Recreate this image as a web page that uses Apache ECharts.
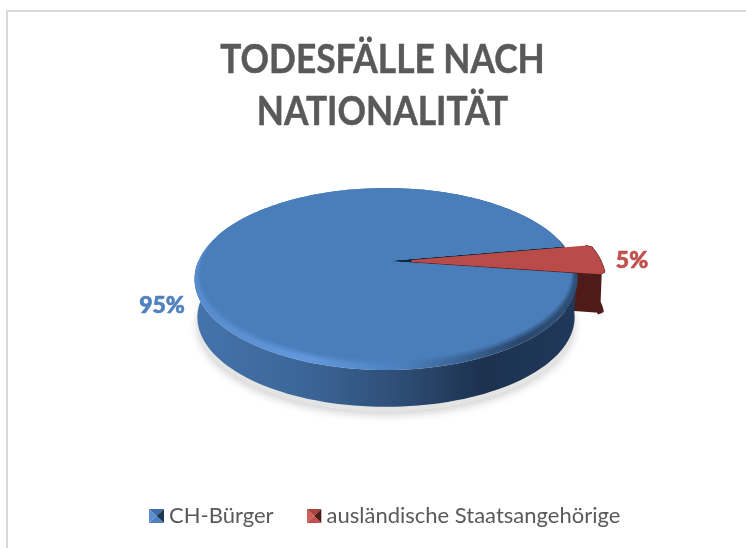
<!DOCTYPE html>
<html lang="de" style="height: 100%">
<head>
    <title>Todesfälle nach Nationalität</title>
    <meta charset="utf-8">
</head>
<body style="height: 100%; margin: 0; background: #fff">
<div id="container" style="height: 100%"></div>
<script src="https://cdn.jsdelivr.net/npm/echarts@6/dist/echarts.min.js"></script>
<script type="text/javascript">
    var categories = ['CH-Bürger', 'ausländische Staatsangehörige'];
    var values = [95, 5];
    var titleLines = ['TODESFÄLLE NACH', 'NATIONALITÄT'];

    var FONT = 'Lato, "Open Sans", sans-serif';
    var total = values.reduce(function (a, b) { return a + b; }, 0);

    // perspective disc: center, radii, tilt, height of the cylinder
    var CX = 386, CY = 261, RX = 187.7, RY = 87.4, TILT = 0.198, DEPTH = 38.5;
    var FIRST_ANGLE = 8;
    var EXPLODE_U = 0.14;

    var skins = [
        {
            top: '#4a7ebb', label: '#4f81bd', wallCut: '#14263f',
            side: [[0, '#4573ab'], [0.3, '#3b6597'], [0.55, '#2d4c73'], [0.75, '#1c324f'], [1, '#20385a']],
            bevel: [[0, '#568bcc'], [0.3, '#6299dc'], [0.55, '#4a7ebb'], [0.85, '#2a486d'], [1, '#2f5078']]
        },
        {
            top: '#b94b48', label: '#c0504d', wallCut: '#4e1b18'
        }
    ];

    function project(deg, r, shiftU, dy, scale) {
        var a = deg * Math.PI / 180;
        var u = r * Math.cos(a) + (shiftU || 0);
        var v = r * Math.sin(a);
        var w = 1 - TILT * v;
        var s = scale || 1;
        return [CX + s * RX * u / w, CY + s * RY * v / w + (dy || 0)];
    }

    function arc(from, to, shiftU, dy, scale) {
        var pts = [];
        var n = Math.max(2, Math.ceil(Math.abs(to - from) / 2));
        for (var i = 0; i <= n; i++) {
            pts.push(project(from + (to - from) * i / n, 1, shiftU, dy, scale));
        }
        return pts;
    }

    // radius of the flat face inside the bevel; same radial lines, so the cuts stay straight
    function faceRim(from, to, soft) {
        var pts = [];
        var n = Math.ceil(Math.abs(to - from) / 2);
        for (var i = 0; i <= n; i++) {
            var deg = from + (to - from) * i / n;
            var s = Math.sin(deg * Math.PI / 180);
            var inset = s > 0 ? 0.02 + 0.055 * s : 0.02 * Math.max(0, 1 + 3 * s);
            pts.push(project(deg, 1 - inset * soft));
        }
        return pts;
    }

    function grad(stops) {
        return new echarts.graphic.LinearGradient(0, 0, 1, 0, stops.map(function (s) {
            return { offset: s[0], color: s[1] };
        }));
    }

    function poly(points, fill, z2, extra) {
        var style = { fill: fill };
        for (var k in extra) style[k] = extra[k];
        return { type: 'polygon', shape: { points: points }, style: style, z2: z2, silent: true };
    }

    function sliceAngles(idx) {
        var before = 0;
        for (var i = 0; i < idx; i++) before += values[i];
        return [
            FIRST_ANGLE + before / total * 360,
            FIRST_ANGLE + (before + values[idx]) / total * 360
        ];
    }

    function renderBlue(idx) {
        var ang = sliceAngles(idx);
        var skin = skins[idx];
        var apex = project(0, 0);
        var endPt = project(ang[1], 1);
        return [
            // ground shadow
            poly(arc(0, 360, 0, DEPTH + 5, 0.985), '#e4e4e4', 1, { shadowBlur: 9, shadowColor: '#d0d0d0', shadowOffsetY: 3 }),
            // cut wall seen through the gap
            poly([apex, endPt, [endPt[0], endPt[1] + DEPTH], [apex[0], apex[1] + DEPTH]], skin.wallCut, 2),
            // outer wall
            poly(arc(ang[0], 180, 0, DEPTH, 0.985).concat(arc(180, ang[0])), grad(skin.side), 10),
            // bevel, then the face in soft steps
            poly([apex].concat(arc(ang[0], ang[1])), grad(skin.bevel), 11),
            poly([apex].concat(faceRim(ang[0], ang[1], 0.55)), skin.top, 12, { opacity: 0.3 }),
            poly([apex].concat(faceRim(ang[0], ang[1], 0.75)), skin.top, 13, { opacity: 0.5 }),
            poly([apex].concat(faceRim(ang[0], ang[1], 1)), skin.top, 14)
        ];
    }

    function renderRed(idx) {
        var ang = sliceAngles(idx);
        var skin = skins[idx];
        var apex = project(0, 0, EXPLODE_U);
        // corners of the rim are chamfered, the stroke rounds them off
        var rim = [project(ang[0], 0.98, EXPLODE_U)]
            .concat(arc(ang[0] + 1.2, ang[1] - 1.2, EXPLODE_U), [project(ang[1], 0.98, EXPLODE_U)]);
        var last = rim[rim.length - 1];
        var dropped = rim.map(function (p) { return [p[0] - 1.5, p[1] + DEPTH + 1]; });
        var outer = rim.concat(dropped.slice().reverse());
        return [
            poly(dropped.concat([rim[0]]), '#e4e4e4', 3, { shadowBlur: 6, shadowColor: '#d0d0d0', shadowOffsetY: 4 }),
            poly([apex, last, dropped[dropped.length - 1], [apex[0], apex[1] + DEPTH]], skin.wallCut, 4),
            poly(outer, skin.wallCut, 4, { stroke: skin.wallCut, lineWidth: 3, lineJoin: 'round' }),
            poly([apex].concat(rim), skin.top, 5, { stroke: skin.top, lineWidth: 2, lineJoin: 'round' })
        ];
    }

    var labelOffsets = [[-224, 45], [246, 0]];

    function renderItem(params, api) {
        var idx = params.seriesIndex;
        var children = idx === 0 ? renderBlue(idx) : renderRed(idx);
        children.push({
            type: 'text',
            z2: 20,
            silent: true,
            style: {
                x: CX + labelOffsets[idx][0],
                y: CY + labelOffsets[idx][1],
                text: Math.round(api.value(0) / total * 100) + '%',
                fill: skins[idx].label,
                stroke: skins[idx].label,
                lineWidth: 0.6,
                fontFamily: 'Lato',
                fontWeight: 900,
                fontSize: 23,
                align: 'center',
                verticalAlign: 'middle'
            }
        });
        return { type: 'group', children: children };
    }

    function facetIcon(c) {
        var svg = '<svg xmlns="http://www.w3.org/2000/svg" width="15" height="14">' +
            '<polygon points="0,0 15,0 7.5,7" fill="' + c[0] + '"/>' +
            '<polygon points="0,0 0,14 7.5,7" fill="' + c[1] + '"/>' +
            '<polygon points="15,0 15,14 7.5,7" fill="' + c[2] + '"/>' +
            '<polygon points="0,14 15,14 7.5,7" fill="' + c[3] + '"/></svg>';
        return 'image://data:image/svg+xml;charset=utf-8,' + encodeURIComponent(svg);
    }
    var iconColors = [
        ['#3f6ea8', '#5b8fd0', '#1f3654', '#4f81bd'],
        ['#a84542', '#d0605c', '#4e1b18', '#c0504d']
    ];

    var myChart = echarts.init(document.getElementById('container'), null, { renderer: 'canvas' });

    var series = categories.map(function (name, i) {
        return {
            name: name,
            type: 'custom',
            coordinateSystem: 'none',
            animation: false,
            silent: true,
            renderItem: renderItem,
            data: [[values[i]]]
        };
    });

    // title is squeezed horizontally, Calibri is narrower than Lato
    var titleGraphics = titleLines.map(function (line, i) {
        return {
            type: 'text',
            silent: true,
            x: 382.5,
            y: 60 + i * 52,
            scaleX: 0.86,
            style: {
                x: 0,
                y: 0,
                text: line,
                fill: '#595959',
                stroke: '#595959',
                lineWidth: 0.5,
                fontFamily: 'Lato',
                fontWeight: 'bold',
                fontSize: 41,
                align: 'center',
                verticalAlign: 'middle'
            }
        };
    });

    myChart.setOption({
        backgroundColor: '#fff',
        animation: false,
        legend: {
            left: 144,
            top: 500,
            itemWidth: 15,
            itemHeight: 14,
            itemGap: 33,
            textStyle: { fontFamily: FONT, fontSize: 22, color: '#595959' },
            data: categories.map(function (name, i) {
                return { name: name, icon: facetIcon(iconColors[i]) };
            })
        },
        graphic: [{
            type: 'rect',
            silent: true,
            shape: { x: 7, y: 11, width: 800, height: 800 },
            style: { fill: 'none', stroke: '#d9d9d9', lineWidth: 2 }
        }].concat(titleGraphics),
        series: series
    });

    window.addEventListener('resize', myChart.resize);
</script>
</body>
</html>
